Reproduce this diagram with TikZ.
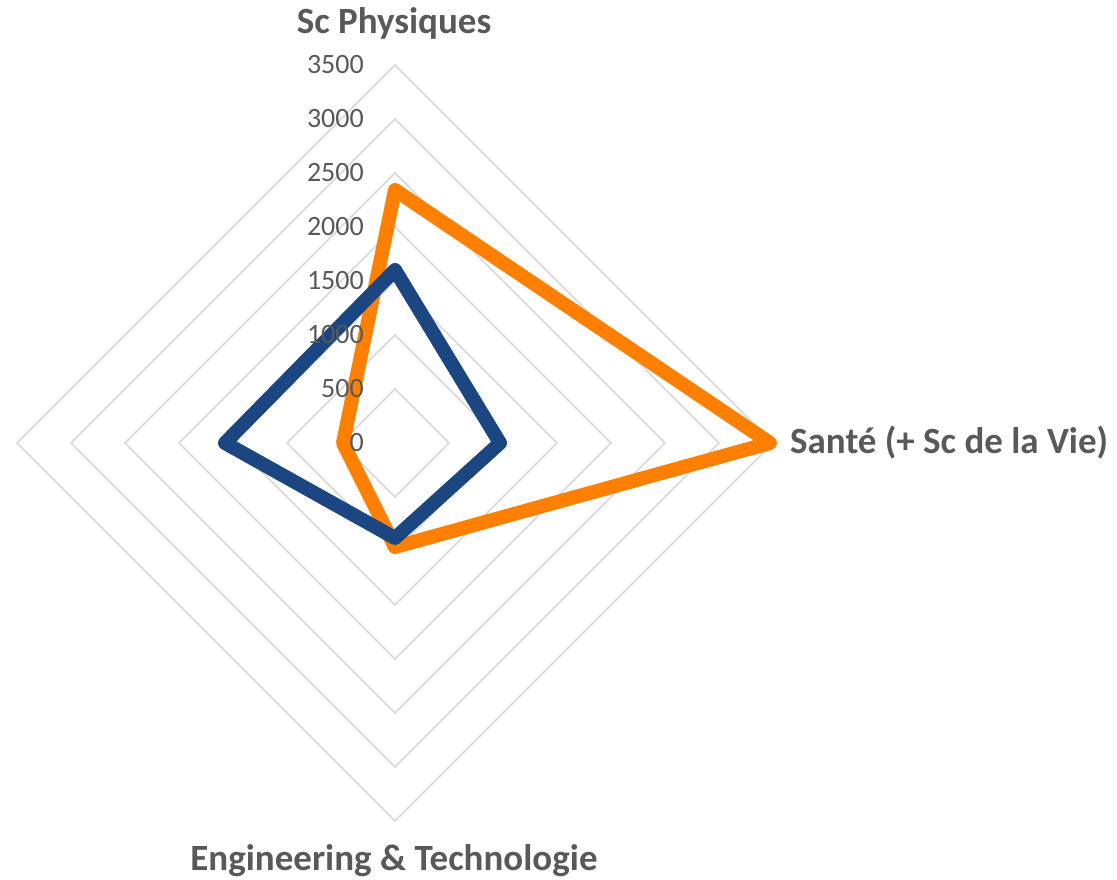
\documentclass[tikz,border=0pt]{standalone}
\usepackage{fontspec}
\setmainfont{Carlito}
\usetikzlibrary{calc}
\definecolor{gridc}{HTML}{D9D9D9}
\definecolor{txtc}{HTML}{595959}
\definecolor{orangec}{HTML}{FF8000}
\definecolor{bluec}{HTML}{1B4682}
\tikzset{
  gridline/.style={draw=gridc, line width=1.5pt},
  seriesline/.style={line width=14pt, line join=round, line cap=round},
  ticklab/.style={text=txtc, font=\fontsize{28}{28}\selectfont, anchor=east, inner sep=0pt},
  axislab/.style={text=txtc, font=\fontsize{37}{37}\selectfont\bfseries, inner sep=0pt}
}
\begin{document}
\begin{tikzpicture}[x=1pt,y=-1pt]
\useasboundingbox (0,0) rectangle (1117,879);
\coordinate (C) at (395,443);
% grid
\foreach \k in {1,...,7}{
  \draw[gridline] ($(C)+(0,-54*\k)$) -- ($(C)+(54*\k,0)$) -- ($(C)+(0,54*\k)$) -- ($(C)+(-54*\k,0)$) -- cycle;
}
% orange series
\coordinate (o1) at ($(C)+(0,-253)$);
\coordinate (o2) at ($(C)+(375,0)$);
\coordinate (o3) at ($(C)+(0,104)$);
\coordinate (o4) at ($(C)+(-52,0)$);
\draw[seriesline, draw=orangec] (o1) -- (o2) -- (o3) -- (o4) -- cycle;
% blue series
\coordinate (b1) at ($(C)+(0,-173)$);
\coordinate (b2) at ($(C)+(105,0)$);
\coordinate (b3) at ($(C)+(0,95)$);
\coordinate (b4) at ($(C)+(-170,0)$);
\draw[seriesline, draw=bluec] (b1) -- (b2) -- (b3) -- (b4) -- cycle;
% tick labels
\foreach \k/\v in {0/0,1/500,2/1000,3/1500,4/2000,5/2500,6/3000,7/3500}{
  \node[ticklab] (t\k) at (364,443-54*\k) {\v};
}
% axis labels
\node[axislab, anchor=base] (lp) at (394,33) {Sc Physiques};
\node[axislab, anchor=base west] (ls) at (790,453) {Santé (+ Sc de la Vie)};
\node[axislab, anchor=base] (le) at (394,870) {Engineering \& Technologie};
\end{tikzpicture}
\end{document}
